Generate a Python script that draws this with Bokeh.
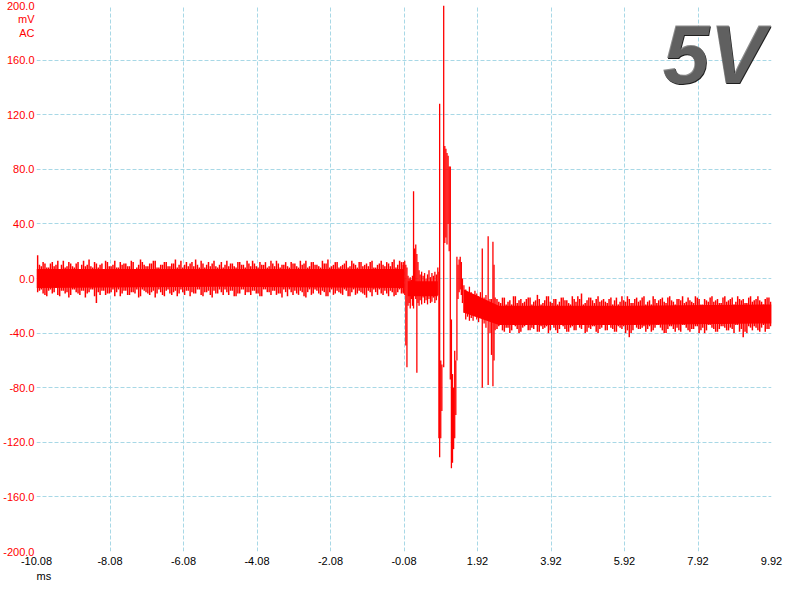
import numpy as np
from bokeh.plotting import figure
from bokeh.models import Range1d, FixedTicker, PrintfTickFormatter, Label, LinearAxis
from bokeh.embed import file_html
from bokeh.resources import INLINE

# ---------------- data ----------------
x_ticks = [-10.08, -8.08, -6.08, -4.08, -2.08, -0.08, 1.92, 3.92, 5.92, 7.92, 9.92]
y_ticks = [-200, -160, -120, -80, -40, 0, 40, 80, 120, 160, 200]

# dense core of the trace (mV)
pre_core_t = [-10.08, -5.0, -0.08]
pre_core_lo = [-7, -6, -7]
pre_core_hi = [7, 7, 7]
mid_core_t = [0.02, 0.84]
mid_core_lo = [-13, -13]
mid_core_hi = [-2, -2]
post_core_t = [1.55, 2.5, 6.0, 9.92]
post_core_lo = [-25, -34, -34, -33]
post_core_hi = [-8, -20, -20, -19]

# sampled noise extremes before the event, every 0.1 ms from -10.05 ms (set a)
pre_start, pre_step = -10.05, 0.1
pre_hi = [17, 9, 11, 8, 12, 10, 7, 13, 9, 11,
          8, 12, 10, 9, 14, 8, 11, 10, 7, 12,
          9, 13, 8, 10, 11, 9, 12, 8, 14, 10,
          9, 11, 13, 8, 10, 12, 9, 11, 8, 13,
          10, 9, 12, 14, 8, 11, 10, 9, 13, 8,
          12, 10, 9, 11, 8, 12, 10, 13, 9, 11,
          8, 10, 12, 9, 11, 13, 8, 10, 9, 12,
          11, 8, 10, 13, 9, 12, 10, 8, 11, 14,
          9, 12, 8, 10, 13, 9, 11, 8, 12, 10,
          9, 13, 8, 11, 10, 12, 9, 14, 10, 12]
pre_lo = [-10, -8, -12, -9, -11, -7, -13, -9, -10, -12,
          -8, -11, -9, -14, -10, -8, -18, -12, -9, -11,
          -10, -13, -8, -11, -9, -12, -10, -8, -13, -9,
          -11, -10, -14, -8, -12, -9, -11, -10, -13, -8,
          -12, -9, -10, -11, -8, -13, -10, -12, -9, -11,
          -10, -8, -12, -9, -13, -11, -8, -10, -12, -9,
          -11, -13, -8, -10, -9, -12, -11, -8, -13, -10,
          -9, -12, -10, -14, -8, -11, -9, -12, -10, -13,
          -8, -11, -10, -12, -9, -13, -8, -11, -10, -12,
          -9, -13, -10, -8, -12, -11, -9, -13, -10, -11]
# set b: the samples in between (offset 0.05 ms)
pre_hi_b = [10, 12, 8, 11, 9, 13, 10, 8, 12, 9,
            11, 7, 13, 10, 9, 12, 8, 11, 13, 9,
            10, 8, 12, 11, 9, 13, 7, 10, 12, 9,
            11, 13, 8, 10, 12, 9, 11, 14, 10, 8,
            12, 11, 9, 10, 13, 8, 12, 11, 9, 10,
            8, 13, 11, 9, 12, 10, 8, 11, 13, 9,
            12, 10, 8, 13, 9, 11, 10, 12, 8, 11,
            9, 13, 11, 8, 12, 10, 9, 13, 11, 8,
            10, 12, 9, 11, 8, 13, 10, 12, 9, 11,
            12, 8, 10, 13, 9, 11, 12, 8, 13, 10]
pre_lo_b = [-9, -11, -13, -8, -10, -12, -9, -11, -14, -8,
            -10, -12, -9, -11, -8, -13, -10, -9, -12, -11,
            -8, -10, -13, -9, -12, -10, -11, -14, -8, -10,
            -12, -9, -11, -10, -13, -8, -12, -9, -11, -10,
            -9, -13, -11, -8, -12, -10, -9, -14, -11, -8,
            -12, -10, -9, -13, -11, -8, -12, -10, -9, -11,
            -13, -8, -10, -12, -9, -11, -14, -10, -8, -12,
            -11, -9, -13, -10, -12, -8, -11, -9, -13, -10,
            -12, -9, -11, -8, -13, -10, -12, -9, -11, -14,
            -10, -8, -12, -11, -9, -13, -10, -12, -8, -11]

# sampled noise extremes after the event, every 0.1 ms from 2.45 ms (set a)
post_start, post_step = 2.45, 0.1
post_hi = [-15, -18, -14, -17, -19, -13, -16, -18, -15, -14,
           -17, -12, -19, -16, -13, -18, -15, -17, -14, -16,
           -19, -15, -13, -11, -18, -14, -16, -15, -17, -15,
           -18, -14, -16, -19, -13, -17, -15, -18, -14, -16,
           -13, -17, -19, -15, -16, -14, -18, -13, -17, -15,
           -16, -18, -14, -17, -13, -15, -19, -16, -14, -17,
           -15, -18, -13, -16, -14, -17, -15, -15, -18, -13,
           -16, -13, -17, -15, -14]
post_lo = [-37, -34, -39, -36, -38, -35, -40, -36, -34, -38,
           -37, -39, -35, -36, -40, -34, -38, -37, -35, -39,
           -36, -38, -34, -37, -40, -36, -35, -39, -37, -34,
           -38, -36, -39, -35, -37, -40, -43, -38, -36, -37,
           -35, -37, -39, -36, -34, -38, -40, -35, -37, -36,
           -39, -34, -38, -37, -35, -40, -36, -38, -34, -37,
           -39, -35, -36, -38, -37, -34, -39, -43, -40, -36,
           -35, -38, -36, -39, -37]
post_hi_b = [-17, -14, -19, -16, -13, -18, -15, -17, -14, -19,
             -16, -15, -18, -13, -17, -15, -19, -14, -16, -18,
             -13, -17, -15, -19, -16, -14, -18, -13, -16, -17,
             -15, -19, -14, -17, -16, -13, -18, -15, -17, -14,
             -19, -16, -13, -18, -15, -17, -14, -16, -19, -15,
             -13, -17, -16, -18, -14, -19, -15, -17, -13, -16,
             -18, -14, -17, -15, -19, -13, -16, -18, -14, -17,
             -15, -16, -19, -14, -17]
post_lo_b = [-35, -38, -36, -40, -34, -37, -39, -35, -38, -36,
             -34, -39, -37, -35, -38, -36, -40, -34, -37, -39,
             -35, -38, -36, -34, -39, -37, -35, -40, -36, -38,
             -34, -37, -39, -36, -35, -38, -40, -34, -37, -36,
             -39, -35, -38, -34, -36, -40, -37, -35, -39, -38,
             -34, -36, -39, -37, -35, -38, -40, -34, -36, -39,
             -37, -35, -38, -36, -40, -34, -37, -39, -35, -38,
             -36, -39, -34, -37, -35]

# event region: time (ms), min (mV), max (mV)
ev_t = [-0.10, -0.06, -0.03, 0.00, 0.03, 0.06, 0.09, 0.12, 0.15, 0.18,
        0.21, 0.24, 0.27, 0.30, 0.33, 0.36, 0.40, 0.44, 0.48, 0.52,
        0.56, 0.60, 0.64, 0.68, 0.72, 0.76, 0.80, 0.84, 0.87, 0.89,
        0.92, 0.95, 1.00, 1.03, 1.06, 1.09, 1.12, 1.15, 1.18, 1.21,
        1.24, 1.27, 1.30, 1.33, 1.36, 1.39, 1.42, 1.45, 1.48, 1.51,
        1.55, 1.60, 1.65, 1.70, 1.75, 1.80, 1.85, 1.90, 1.95, 2.00,
        2.05, 2.10, 2.15, 2.21, 2.26, 2.30, 2.34, 2.37, 2.40]
ev_lo = [-10, -12, -49, -65, -20, -18, -22, -15, -20, -22,
         -12, -15, -69, -18, -20, -16, -19, -14, -18, -16,
         -19, -15, -18, -17, -14, -18, -16, -12, -117, -131,
         -117, -97, -65, 26, 30, 25, 40, 20, -74, -139,
         -135, -125, -117, -100, -60, -15, -10, -8, -12, -18,
         -25, -30, -28, -31, -29, -31, -27, -30, -32, -28,
         -80, -33, -36, -78, -40, -56, -79, -60, -38]
ev_hi = [12, 13, 10, 8, 2, 0, 1, -1, 2, 64,
         22, 25, 18, 12, 6, 3, 5, 2, 4, 0,
         3, 6, 1, 4, 2, 5, 3, 8, 5, 128,
         -60, -63, 200, 97, 95, 92, 90, 82, 82, -30,
         -70, -80, -53, -60, 16, 10, 14, 16, 12, 0,
         -5, -8, -10, -6, -10, -12, -9, -11, -13, -10,
         22, -14, -12, 31, -15, -15, 27, 10, -14]

# ---------------- figure ----------------
FONT = "Liberation Sans"
FSIZE = "11px"
p = figure(width=784, height=584, output_backend="svg", toolbar_location=None,
           x_range=Range1d(-10.08, 9.92), y_range=Range1d(-200, 200),
           min_border_left=35, min_border_right=13, min_border_top=5,
           min_border_bottom=29)
p.outline_line_color = None
p.background_fill_color = "white"
p.border_fill_color = "white"

p.xaxis.ticker = FixedTicker(ticks=x_ticks)
p.yaxis.ticker = FixedTicker(ticks=y_ticks + [190, 180])
p.xaxis.formatter = PrintfTickFormatter(format="%.2f")
p.yaxis.formatter = PrintfTickFormatter(format="%.1f")
p.yaxis.major_label_overrides = {190: "mV", 180: "AC"}
p.xgrid.ticker = FixedTicker(ticks=x_ticks)
p.ygrid.ticker = FixedTicker(ticks=y_ticks)
for ax in (p.xaxis, p.yaxis):
    ax.axis_line_color = None
    ax.major_tick_line_color = None
    ax.minor_tick_line_color = None
    ax.major_tick_in = 0
    ax.major_tick_out = 0
    ax.major_label_text_font = FONT
    ax.major_label_text_font_size = FSIZE
p.yaxis.major_label_text_color = "#FF0000"
p.yaxis.major_label_standoff = 2
p.xaxis.major_label_text_color = "black"
p.xaxis.major_label_standoff = 5

# unit label under the time axis
ms_axis = LinearAxis(ticker=FixedTicker(ticks=[-9.88]), major_label_overrides={-9.88: "ms"},
                     axis_line_color=None, major_tick_line_color=None,
                     minor_tick_line_color=None, major_tick_in=0, major_tick_out=0,
                     major_label_standoff=2, major_label_text_font=FONT,
                     major_label_text_font_size=FSIZE, major_label_text_color="black")
p.add_layout(ms_axis, "below")

p.grid.grid_line_color = "#A8D8E6"
p.grid.grid_line_dash = "4 2"
p.grid.grid_line_width = 1

RED = "#FF0000"
p.varea(x=pre_core_t, y1=pre_core_lo, y2=pre_core_hi, fill_color=RED)
p.varea(x=mid_core_t, y1=mid_core_lo, y2=mid_core_hi, fill_color=RED)
p.varea(x=post_core_t, y1=post_core_lo, y2=post_core_hi, fill_color=RED)

pre_t = np.round(pre_start + pre_step * np.arange(len(pre_hi)), 3)
pre_t_b = pre_t + pre_step / 2
post_t = np.round(post_start + post_step * np.arange(len(post_hi)), 3)
post_t_b = post_t + post_step / 2
for tt, lo, hi in ((pre_t, pre_lo, pre_hi), (pre_t_b, pre_lo_b, pre_hi_b),
                   (post_t, post_lo, post_hi), (post_t_b, post_lo_b, post_hi_b)):
    p.segment(x0=tt, y0=lo, x1=tt, y1=hi, line_color=RED, line_width=1.5)
p.segment(x0=ev_t, y0=ev_lo, x1=ev_t, y1=ev_hi, line_color=RED, line_width=1.3)

# big "5V" marker
p.add_layout(Label(x=9.77, y=163.5, text="5V", text_align="right", text_baseline="middle",
                   text_color="#1e1e1e", text_font="Liberation Sans", text_font_style="bold italic",
                   text_font_size="84px"))
p.add_layout(Label(x=9.75, y=164.6, text="5V", text_align="right", text_baseline="middle",
                   text_color="#707070", text_alpha=0.8, text_font="Liberation Sans",
                   text_font_style="bold italic", text_font_size="84px"))

open("out.html", "w").write(file_html(p, INLINE))
